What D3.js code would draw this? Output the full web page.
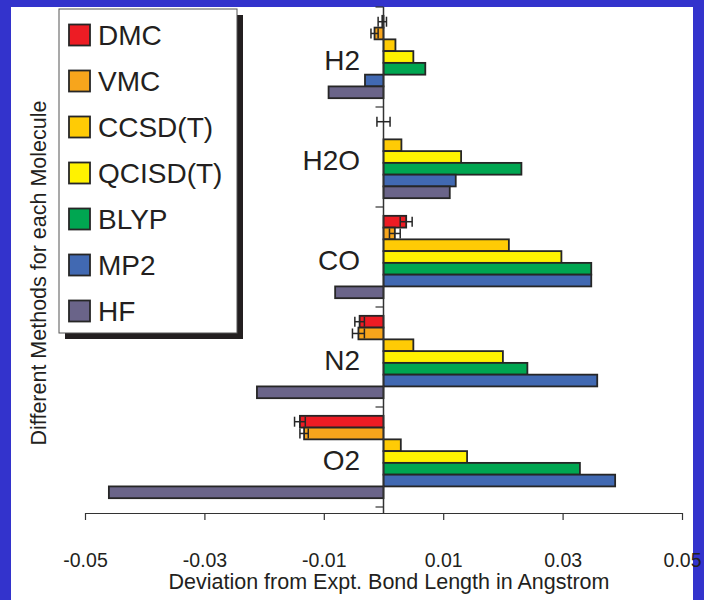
<!DOCTYPE html>
<html>
<head>
<meta charset="utf-8">
<script src="https://cdn.jsdelivr.net/npm/d3@7"></script>
<style>
  body { margin: 0; background: #3333cc; }
  svg { display: block; font-family: "Liberation Sans", Arial, sans-serif; }
</style>
</head>
<body>
<svg id="chart" width="704" height="600"></svg>
<script>
// molecules top to bottom, methods inside each group
const molecules = ["H2", "H2O", "CO", "N2", "O2"];
const methods = ["DMC", "VMC", "CCSD(T)", "QCISD(T)", "BLYP", "MP2", "HF"];
const colors = ["#ed1c24", "#f7a51c", "#ffcb05", "#fff200", "#00a651", "#4169b2", "#6a6489"];

// deviation from experiment (Angstrom), one array per method, in molecule order
const dmc = [-0.0002, 0.0000, 0.0038, -0.0040, -0.0140];
const vmc = [-0.0015, null, 0.0019, -0.0042, -0.0133];
const ccsd = [0.0020, 0.0030, 0.0210, 0.0050, 0.0029];
const qcisd = [0.0050, 0.0130, 0.0298, 0.0200, 0.0140];
const blyp = [0.0070, 0.0231, 0.0348, 0.0241, 0.0329];
const mp2 = [-0.0031, 0.0121, 0.0348, 0.0358, 0.0388];
const hf = [-0.0092, 0.0111, -0.0081, -0.0212, -0.0460];

// error bars (only the Monte Carlo methods)
const dmcErr = [0.0007, 0.0011, 0.0010, 0.0008, 0.0009];
const vmcErr = [0.0006, null, 0.0009, 0.0010, 0.0007];

const xTicks = [-0.05, -0.03, -0.01, 0.01, 0.03, 0.05];

const series = [dmc, vmc, ccsd, qcisd, blyp, mp2, hf];
const errors = [dmcErr, vmcErr, null, null, null, null, null];

const svg = d3.select("#chart");

// white page inside the blue frame
svg.append("rect").attr("x", 11).attr("y", 7).attr("width", 682).attr("height", 593).attr("fill", "#fff");

const x = d3.scaleLinear().domain([-0.05, 0.05]).range([85, 682]);
const y0 = d3.scaleBand().domain(molecules).range([7, 507]);
const y1 = d3.scaleBand().domain(methods).range([0, y0.bandwidth()]).paddingOuter(0.75);
const axisY = 513;

// build flat list of bars
const bars = [];
molecules.forEach((m, i) => {
    methods.forEach((k, j) => {
        const v = series[j][i];
        if (v === null) return;
        const e = errors[j] ? errors[j][i] : null;
        bars.push({ m, k, v, e, c: colors[j] });
    });
});

const g = svg.append("g");

g.selectAll("rect.bar")
    .data(bars)
    .join("rect")
    .attr("class", "bar")
    .attr("x", d => Math.min(x(0), x(d.v)))
    .attr("y", d => y0(d.m) + y1(d.k))
    .attr("width", d => Math.abs(x(d.v) - x(0)))
    .attr("height", y1.bandwidth())
    .attr("fill", d => d.c)
    .attr("stroke", "#262626")
    .attr("stroke-width", 1.8);

// zero line and category ticks
g.append("line")
    .attr("x1", x(0)).attr("x2", x(0))
    .attr("y1", 7).attr("y2", axisY)
    .attr("stroke", "#333").attr("stroke-width", 1.5);

g.selectAll("line.ctick")
    .data(molecules.map(m => y0(m)).concat([y0.range()[1]]))
    .join("line")
    .attr("class", "ctick")
    .attr("x1", x(0) - 8).attr("x2", x(0))
    .attr("y1", d => d).attr("y2", d => d)
    .attr("stroke", "#333").attr("stroke-width", 1.2);

// error bars
const eb = g.selectAll("g.err")
    .data(bars.filter(d => d.e !== null))
    .join("g")
    .attr("class", "err")
    .attr("stroke", "#262626")
    .attr("stroke-width", 1.5);

eb.append("line")
    .attr("x1", d => x(d.v - d.e)).attr("x2", d => x(d.v + d.e))
    .attr("y1", d => y0(d.m) + y1(d.k) + y1.bandwidth() / 2)
    .attr("y2", d => y0(d.m) + y1(d.k) + y1.bandwidth() / 2);
[-1, 1].forEach(s => {
    eb.append("line")
        .attr("x1", d => x(d.v + s * d.e)).attr("x2", d => x(d.v + s * d.e))
        .attr("y1", d => y0(d.m) + y1(d.k) + y1.bandwidth() / 2 - 5)
        .attr("y2", d => y0(d.m) + y1(d.k) + y1.bandwidth() / 2 + 5);
});

// molecule labels
g.selectAll("text.mol")
    .data(molecules)
    .join("text")
    .attr("class", "mol")
    .attr("x", 360)
    .attr("y", d => y0(d) + y0.bandwidth() / 2 + 13)
    .attr("text-anchor", "end")
    .attr("font-size", 28)
    .attr("fill", "#231f20")
    .text(d => d);

// x axis
const xAxis = d3.axisBottom(x)
    .tickValues(xTicks)
    .tickSize(7)
    .tickSizeOuter(0)
    .tickPadding(33)
    .tickFormat(d3.format(".2f"));

const ax = svg.append("g").attr("transform", `translate(0,${axisY})`).call(xAxis);
ax.select(".domain").attr("stroke", "#333").attr("stroke-width", 1.2);
ax.selectAll(".tick line").attr("stroke", "#333").attr("stroke-width", 1.2);
ax.selectAll(".tick text")
    .attr("font-size", 19.5)
    .attr("font-family", "Liberation Sans, Arial, sans-serif")
    .attr("fill", "#231f20")
    .text(d => d3.format(".2f")(d).replace("−", "-"));

svg.append("text")
    .attr("x", 389).attr("y", 589)
    .attr("text-anchor", "middle")
    .attr("font-size", 21.5)
    .attr("fill", "#231f20")
    .text("Deviation from Expt. Bond Length in Angstrom");

svg.append("text")
    .attr("transform", "translate(46,273) rotate(-90)")
    .attr("text-anchor", "middle")
    .attr("font-size", 21.5)
    .attr("fill", "#231f20")
    .text("Different Methods for each Molecule");

// legend with drop shadow
const lg = svg.append("g");
lg.append("rect").attr("x", 65).attr("y", 15).attr("width", 178).attr("height", 324).attr("fill", "#231f20");
lg.append("rect").attr("x", 59).attr("y", 9).attr("width", 178).attr("height", 324)
    .attr("fill", "#fff").attr("stroke", "#555").attr("stroke-width", 1);

const item = lg.selectAll("g.item")
    .data(methods)
    .join("g")
    .attr("class", "item")
    .attr("transform", (d, i) => `translate(0,${35 + i * 46})`);

item.append("rect")
    .attr("x", 69).attr("y", -10.5)
    .attr("width", 21).attr("height", 21)
    .attr("fill", (d, i) => colors[i])
    .attr("stroke", "#262626").attr("stroke-width", 1.8);

item.append("text")
    .attr("x", 98).attr("y", 10)
    .attr("font-size", 28)
    .attr("fill", "#231f20")
    .text(d => d);
</script>
</body>
</html>
